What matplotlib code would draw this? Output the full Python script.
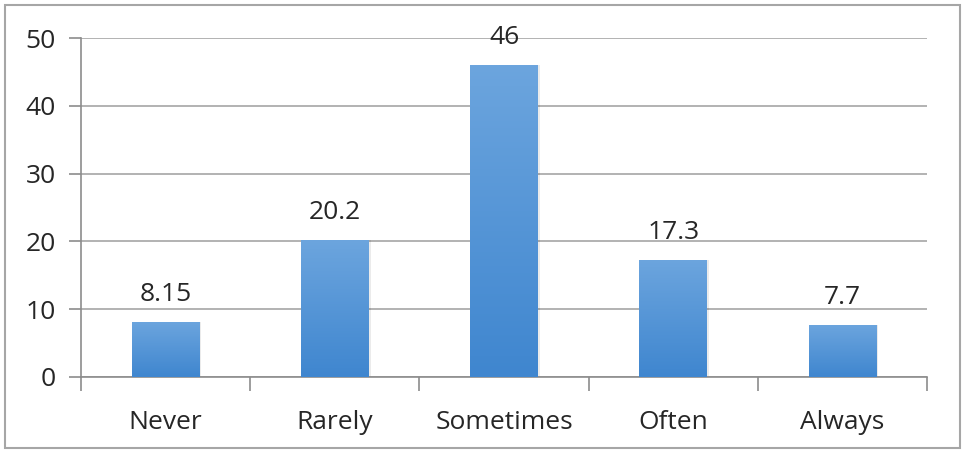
import numpy as np
import matplotlib.pyplot as plt
from matplotlib.patches import Rectangle
from matplotlib.colors import LinearSegmentedColormap

categories = ['Never', 'Rarely', 'Sometimes', 'Often', 'Always']
values = [8.15, 20.2, 46, 17.3, 7.7]
value_labels = ['8.15', '20.2', '46', '17.3', '7.7']

plt.rcParams['font.family'] = ['Open Sans', 'DejaVu Sans']

fig = plt.figure(figsize=(9.69, 4.5), dpi=100)
ax = fig.add_axes([81 / 969, 1 - 377 / 450, (927 - 81) / 969, (377 - 38) / 450])

# outer chart border
fig.patches.append(Rectangle((4.5 / 969, 1 - 448 / 450), 955 / 969, 443 / 450,
                             transform=fig.transFigure, fill=False,
                             edgecolor='#a6a6a6', linewidth=1.5))

x = np.arange(len(categories))
width = 0.40
cmap = LinearSegmentedColormap.from_list('bar', ['#3f86cf', '#6ca5de'])
grad = np.linspace(0, 1, 256).reshape(-1, 1)

bars = ax.bar(x, values, width=width, color='none', zorder=3)
for b, v, lab in zip(bars, values, value_labels):
    x0 = b.get_x()
    # soft shadow
    ax.add_patch(Rectangle((x0 + 0.012, 0), width, v, facecolor='#000000',
                           alpha=0.08, zorder=2, linewidth=0))
    im = ax.imshow(grad, extent=[x0, x0 + width, 0, v], origin='lower',
                   cmap=cmap, aspect='auto', zorder=3)
    im.set_clip_path(b)
    ax.text(b.get_x() + width / 2, v + 2.2, lab, ha='center', va='bottom',
            fontsize=19, color='#262626')

ax.set_xlim(-0.5, len(categories) - 0.5)
ax.set_ylim(0, 50)
ax.set_yticks(range(0, 51, 10))
ax.set_xticks(x)
ax.set_xticklabels(categories)
ax.set_xticks(np.arange(-0.5, len(categories), 1), minor=True)
ax.tick_params(axis='x', which='major', length=0, pad=24, labelsize=19, labelcolor='#262626')
ax.tick_params(axis='x', which='minor', length=10, width=1.2, color='#8c8c8c')
ax.tick_params(axis='y', length=9, width=1.2, color='#8c8c8c', pad=9,
               labelsize=19, labelcolor='#262626')
ax.yaxis.grid(True, color='#a6a6a6', linewidth=1.2, zorder=0)
ax.set_axisbelow(True)
for s in ['top', 'right']:
    ax.spines[s].set_visible(False)
for s in ['left', 'bottom']:
    ax.spines[s].set_color('#8c8c8c')
    ax.spines[s].set_linewidth(1.2)

fig.savefig('out.png', dpi=100)
